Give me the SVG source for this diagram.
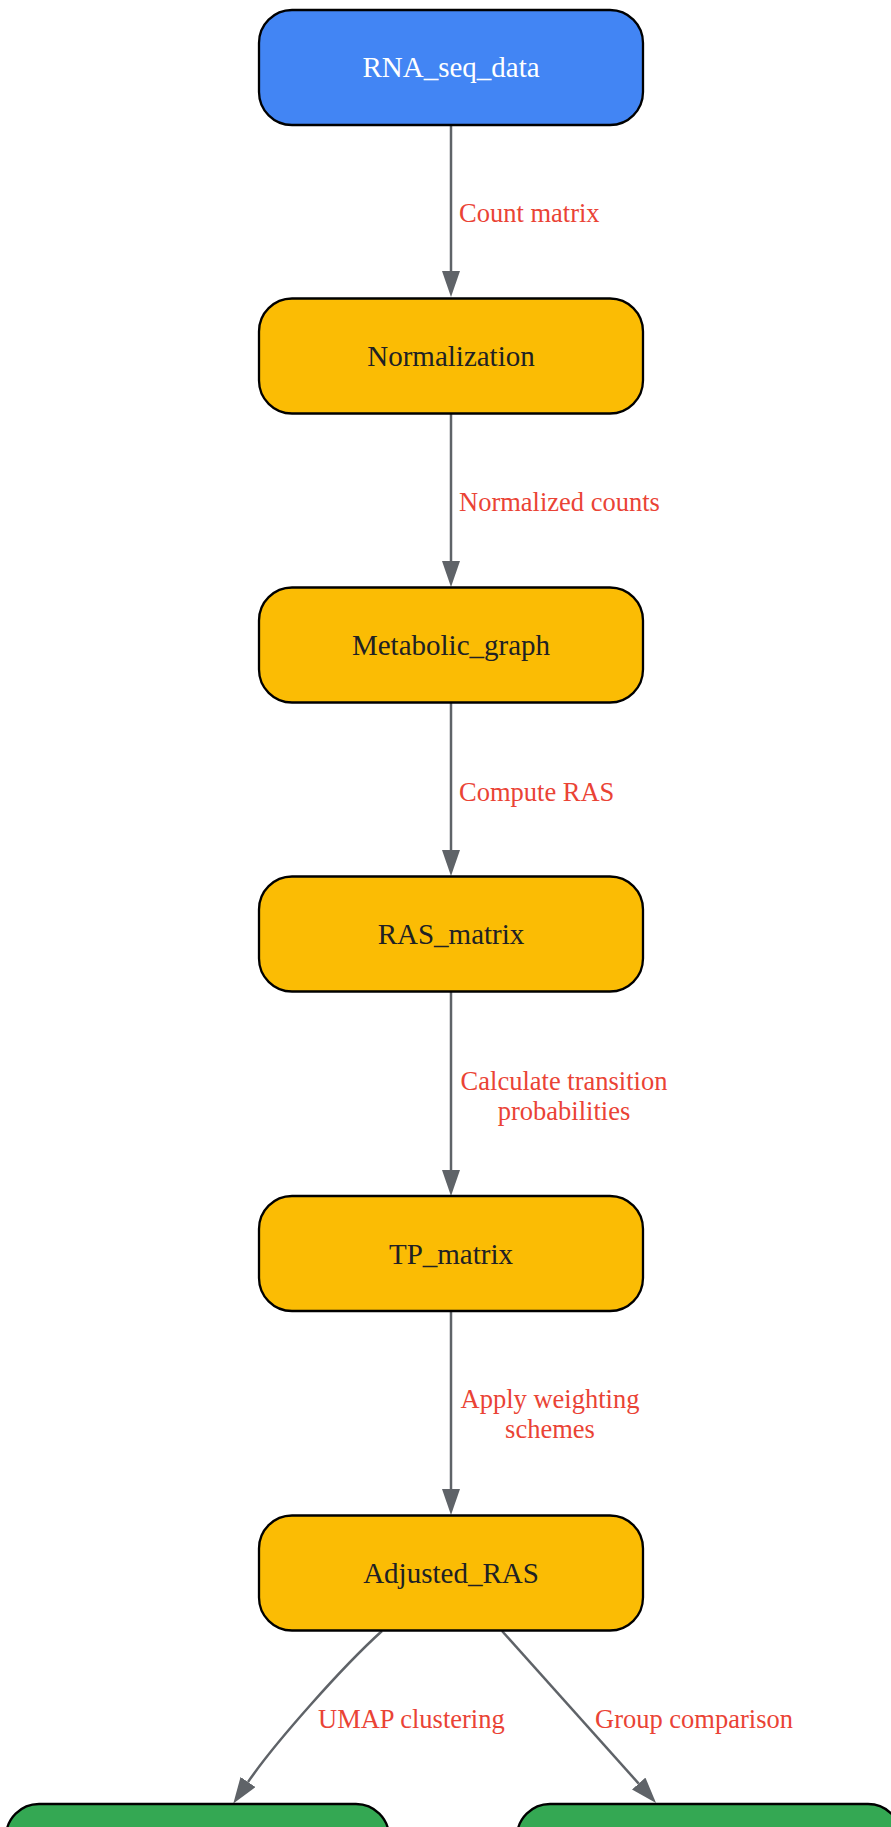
<svg xmlns="http://www.w3.org/2000/svg" width="891" height="1827" viewBox="0 0 891 1827">
<style>
.node rect{stroke:#000;stroke-width:2.3}
.blue{fill:#4285F4}
.yellow{fill:#FBBC04}
.green{fill:#34A853}
.nt{font-family:"Liberation Serif","Times New Roman",serif;font-size:29px;text-anchor:middle}
.dark{fill:#202124}
.light{fill:#ffffff}
.edge{fill:none;stroke:#5f6368;stroke-width:2.5}
.lbl{font-family:"Liberation Serif","Times New Roman",serif;font-size:26.5px;fill:#EA4335}
</style>
<defs>
<marker id="arr" markerUnits="userSpaceOnUse" markerWidth="26" markerHeight="18" refX="0" refY="9" orient="auto" viewBox="0 0 26 18">
<path d="M0,0 L26,9 L0,18 z" fill="#5f6368"/>
</marker>
</defs>
<rect width="891" height="1827" fill="#ffffff"/>
<g id="connectors">
<path class="edge" d="M451,125 L451,271" marker-end="url(#arr)"/>
<path class="edge" d="M451,414 L451,561" marker-end="url(#arr)"/>
<path class="edge" d="M451,703 L451,850" marker-end="url(#arr)"/>
<path class="edge" d="M451,992 L451,1170" marker-end="url(#arr)"/>
<path class="edge" d="M451,1311 L451,1489" marker-end="url(#arr)"/>
<path class="edge" d="M382,1631 C342,1667 274,1744 248,1782" marker-end="url(#arr)"/>
<path class="edge" d="M502,1631 L638.7,1783.6" marker-end="url(#arr)"/>
<text class="lbl" x="459" y="222">Count matrix</text>
<text class="lbl" x="459" y="511">Normalized counts</text>
<text class="lbl" x="459" y="801">Compute RAS</text>
<text class="lbl" x="564" y="1090" text-anchor="middle">Calculate transition</text>
<text class="lbl" x="564" y="1120" text-anchor="middle">probabilities</text>
<text class="lbl" x="550" y="1408" text-anchor="middle">Apply weighting</text>
<text class="lbl" x="550" y="1438" text-anchor="middle">schemes</text>
<text class="lbl" x="318" y="1728">UMAP clustering</text>
<text class="lbl" x="595" y="1728">Group comparison</text>
</g>
<g id="RNA_seq_data" class="node">
<rect class="blue" x="259" y="10" width="384" height="115" rx="33" ry="33"/>
<text class="nt light" x="451" y="77">RNA_seq_data</text>
</g>
<g id="Normalization" class="node">
<rect class="yellow" x="259" y="298.5" width="384" height="115" rx="33" ry="33"/>
<text class="nt dark" x="451" y="366">Normalization</text>
</g>
<g id="Metabolic_graph" class="node">
<rect class="yellow" x="259" y="587.5" width="384" height="115" rx="33" ry="33"/>
<text class="nt dark" x="451" y="655">Metabolic_graph</text>
</g>
<g id="RAS_matrix" class="node">
<rect class="yellow" x="259" y="876.5" width="384" height="115" rx="33" ry="33"/>
<text class="nt dark" x="451" y="944">RAS_matrix</text>
</g>
<g id="TP_matrix" class="node">
<rect class="yellow" x="259" y="1196" width="384" height="115" rx="33" ry="33"/>
<text class="nt dark" x="451" y="1263.5">TP_matrix</text>
</g>
<g id="Adjusted_RAS" class="node">
<rect class="yellow" x="259" y="1515.5" width="384" height="115" rx="33" ry="33"/>
<text class="nt dark" x="451" y="1583">Adjusted_RAS</text>
</g>
<g id="UMAP_node" class="node">
<rect class="green" x="6" y="1804" width="383" height="115" rx="33" ry="33"/>
</g>
<g id="Group_node" class="node">
<rect class="green" x="517" y="1804" width="384" height="115" rx="33" ry="33"/>
</g>
</svg>
